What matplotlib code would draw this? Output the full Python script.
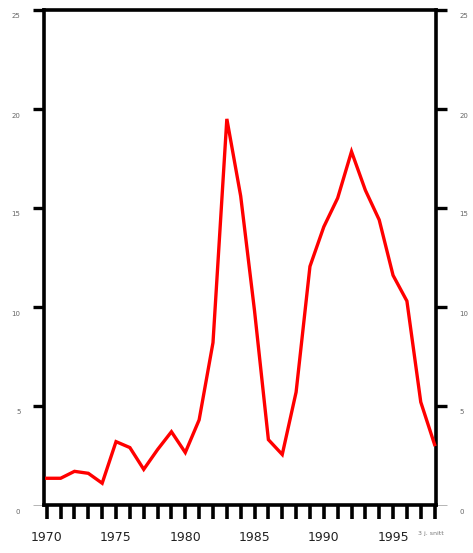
import matplotlib
matplotlib.use("Agg")
import matplotlib.pyplot as plt
import matplotlib.transforms as mtransforms
from matplotlib.ticker import FixedLocator

# data (one value per year)
years = list(range(1970, 1999))
values = [1.35, 1.35, 1.7, 1.6, 1.1, 3.2, 2.9, 1.8, 2.8, 3.7, 2.65, 4.3, 8.2,
          19.5, 15.6, 9.8, 3.3, 2.55, 5.7, 12.05, 14.05, 15.5, 17.85, 15.9,
          14.4, 11.6, 10.3, 5.2, 3.05]
y_ticks = [5, 10, 15, 20, 25]
y_labels = ["5", "10", "15", "20", "25"]
x_major = [1970, 1975, 1980, 1985, 1990, 1995]

fig = plt.figure(figsize=(4.73, 5.53), dpi=100)
ax = fig.add_axes([44 / 473, 48 / 553, 392 / 473, 495 / 553])

ax.plot(years, values, color="#ff0000", lw=2.4, solid_joinstyle="miter",
        clip_on=False, zorder=3)

ax.set_xlim(1969.8, 1998.1)
ax.set_ylim(0, 25)

for side in ["left", "right", "top", "bottom"]:
    ax.spines[side].set_linewidth(2.6)
    ax.spines[side].set_color("black")

# x ticks: every year, thick and downward
ax.xaxis.set_major_locator(FixedLocator(x_major))
ax.xaxis.set_minor_locator(FixedLocator(years))
ax.tick_params(axis="x", which="both", direction="out", length=10, width=2.6,
               color="black", labelsize=9, labelcolor="#222222", pad=9)
ax.set_xticklabels([str(y) for y in x_major])

# y ticks on both sides, small grey labels
ax.yaxis.set_ticks_position("both")
ax.set_yticks(y_ticks)
ax.set_yticklabels(y_labels)
ax.yaxis.set_minor_locator(FixedLocator([0]))
ax.yaxis.set_minor_formatter(plt.FixedFormatter(["0"]))
ax.tick_params(axis="y", which="major", direction="out", length=8, width=2.4,
               color="black", labelsize=5, labelcolor="#666666",
               labelleft=True, labelright=True, pad=9)
ax.tick_params(axis="y", which="minor", direction="out", length=8, width=0.6,
               color="#aaaaaa", labelsize=5, labelcolor="#666666",
               labelleft=True, labelright=True, pad=9)

# shift y tick labels a bit downward like the reference
offset = mtransforms.ScaledTranslation(0, -6 / 100, fig.dpi_scale_trans)
for lab in ax.get_yticklabels(which="both"):
    lab.set_transform(lab.get_transform() + offset)

fig.text(418 / 473, 1 - 534 / 553, "3 j. snitt", fontsize=4.5,
         color="#777777", va="center", ha="left")

fig.savefig("out.png", dpi=100)
